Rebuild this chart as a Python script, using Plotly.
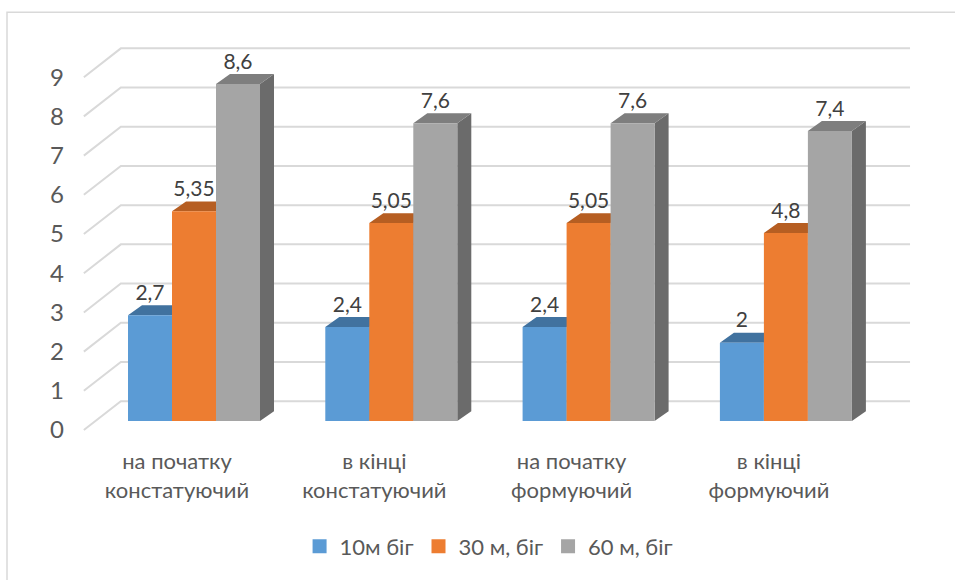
import plotly.graph_objects as go

# ---- data ----
categories = ["на початку<br>констатуючий", "в кінці<br>констатуючий",
              "на початку<br>формуючий", "в кінці<br>формуючий"]
series_names = ["10м біг", "30 м, біг", "60 м, біг"]
run_10m = [2.7, 2.4, 2.4, 2.0]
run_30m = [5.35, 5.05, 5.05, 4.8]
run_60m = [8.6, 7.6, 7.6, 7.4]
value_labels = {
    "10м біг": ["2,7", "2,4", "2,4", "2"],
    "30 м, біг": ["5,35", "5,05", "5,05", "4,8"],
    "60 м, біг": ["8,6", "7,6", "7,6", "7,4"],
}
y_ticks = [0, 1, 2, 3, 4, 5, 6, 7, 8, 9]

# ---- styles ----
front_colors = ["#5B9BD5", "#ED7D31", "#A5A5A5"]
top_colors = ["#41729F", "#B65E22", "#7E7E7E"]
side_colors = ["#3A6690", "#A3541E", "#6B6B6B"]
FONT = "Lato"
TXT = "#595959"

# geometry of the pseudo-3D projection (axis units)
BAR_W = 0.223          # bar width in category units
BAR_DX, BAR_DY = 0.071, 0.254      # depth of a bar
FRONT_DX, FRONT_DY = -0.0583, -0.2284  # front edge of floor relative to bar plane
BACK_DX, BACK_DY = 0.1292, 0.5076      # back wall relative to bar plane
WALL_L, WALL_R = -0.5, 3.5
LABEL_DX = -0.086      # category labels sit on the front edge

fig = go.Figure()

# gridlines on back wall + left side wall
gx, gy = [], []
for v in y_ticks:
    gx += [WALL_L + FRONT_DX, WALL_L + BACK_DX, WALL_R + BACK_DX, None]
    gy += [v + FRONT_DY, v + BACK_DY, v + BACK_DY, None]
fig.add_trace(go.Scatter(x=gx, y=gy, mode="lines", line=dict(color="#D9D9D9", width=2),
                         hoverinfo="skip", showlegend=False))

all_series = [run_10m, run_30m, run_60m]
offsets = [-BAR_W, 0.0, BAR_W]

for k, (name, vals) in enumerate(zip(series_names, all_series)):
    sx, sy, tx, ty, fx, fy = [], [], [], [], [], []
    for i, v in enumerate(vals):
        x0 = i + offsets[k] - BAR_W / 2
        x1 = i + offsets[k] + BAR_W / 2
        # side face
        sx += [x1, x1 + BAR_DX, x1 + BAR_DX, x1, x1, None]
        sy += [0, BAR_DY, v + BAR_DY, v, 0, None]
        # top face
        tx += [x0, x1, x1 + BAR_DX, x0 + BAR_DX, x0, None]
        ty += [v, v, v + BAR_DY, v + BAR_DY, v, None]
        # front face
        fx += [x0, x1, x1, x0, x0, None]
        fy += [0, 0, v, v, 0, None]
    fig.add_trace(go.Scatter(x=sx, y=sy, mode="lines", fill="toself", fillcolor=side_colors[k],
                             line=dict(width=0, color=side_colors[k]), hoverinfo="skip", showlegend=False))
    fig.add_trace(go.Scatter(x=tx, y=ty, mode="lines", fill="toself", fillcolor=top_colors[k],
                             line=dict(width=0, color=top_colors[k]), hoverinfo="skip", showlegend=False))
    fig.add_trace(go.Scatter(x=fx, y=fy, mode="lines", fill="toself", fillcolor=front_colors[k],
                             line=dict(width=0, color=front_colors[k]), name=name, showlegend=False))

# data labels
for k, (name, vals) in enumerate(zip(series_names, all_series)):
    fig.add_trace(go.Scatter(
        x=[i + offsets[k] for i in range(len(vals))],
        y=[v + BAR_DY for v in vals],
        mode="text", text=value_labels[name], textposition="top center",
        textfont=dict(family=FONT, size=21, color="#404040"),
        hoverinfo="skip", showlegend=False))

# legend entries
for k, name in enumerate(series_names):
    fig.add_trace(go.Scatter(x=[None], y=[None], mode="markers", name=name,
                             marker=dict(symbol="square", size=14, color=front_colors[k])))

fig.update_layout(
    width=955, height=580,
    margin=dict(l=80, r=35, t=40, b=140),
    paper_bgcolor="white", plot_bgcolor="white",
    font=dict(family=FONT, size=22, color=TXT),
    xaxis=dict(range=[-0.5778, 3.6797], tickvals=[i + LABEL_DX for i in range(len(categories))],
               ticktext=categories, ticklabelstandoff=8,
               showgrid=False, zeroline=False, showline=False, ticks="",
               tickfont=dict(family=FONT, size=22, color=TXT)),
    yaxis=dict(range=[-0.4315, 9.7208], tickvals=[v + FRONT_DY for v in y_ticks],
               ticktext=[str(v) for v in y_ticks], ticklabelstandoff=15,
               showgrid=False, zeroline=False, showline=False, ticks="",
               tickfont=dict(family=FONT, size=24, color=TXT)),
    legend=dict(orientation="h", x=0.487, xanchor="center", y=-0.2725, yanchor="middle",
                font=dict(family=FONT, size=22, color=TXT), bgcolor="rgba(0,0,0,0)"),
    shapes=[dict(type="rect", xref="paper", yref="paper", x0=-0.0869, y0=-0.37, x1=1.06, y1=1.07,
                 line=dict(color="#D9D9D9", width=1.5), fillcolor="rgba(0,0,0,0)", layer="below")],
)

fig.write_html("out.html")
